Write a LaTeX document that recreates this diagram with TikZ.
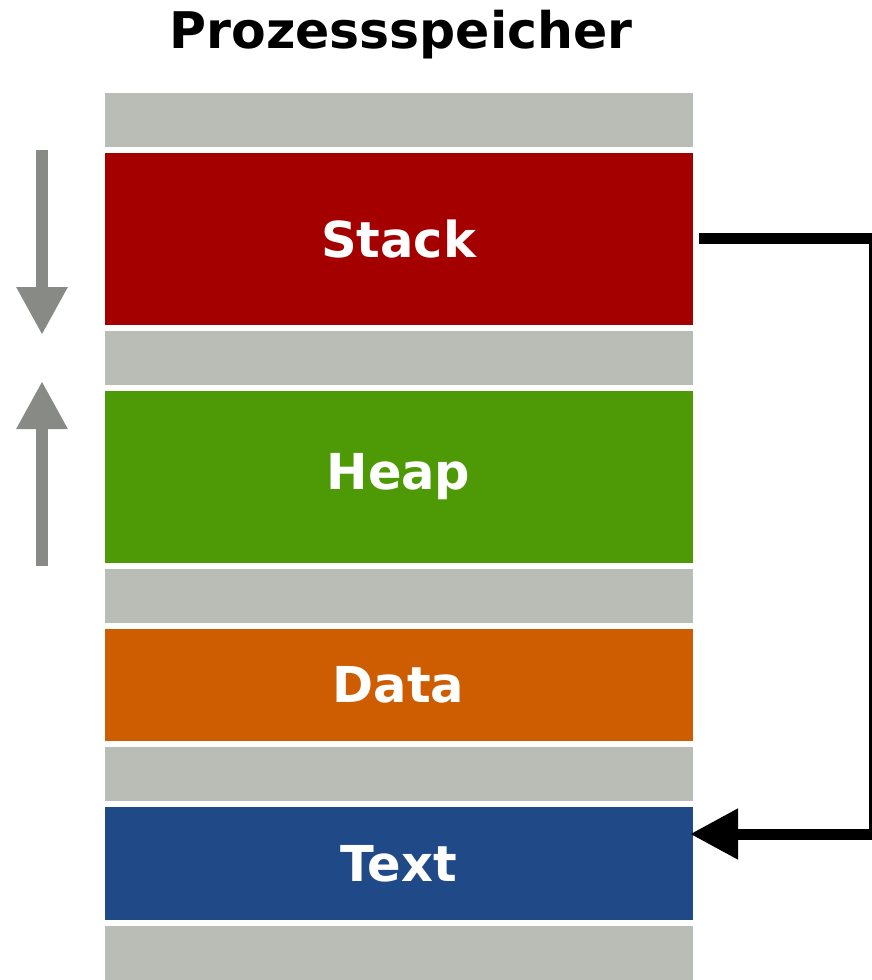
\documentclass[tikz,border=0pt]{standalone}
\usepackage{fontspec}
\setmainfont{DejaVu Sans}
\usetikzlibrary{arrows.meta}
\definecolor{segGray}{HTML}{BABDB6}
\definecolor{segRed}{HTML}{A40000}
\definecolor{segGreen}{HTML}{4E9A06}
\definecolor{segOrange}{HTML}{CE5C00}
\definecolor{segBlue}{HTML}{204A87}
\definecolor{growGray}{HTML}{888A85}
\tikzset{
  seg/.style={rectangle, inner sep=0pt, outer sep=0pt, anchor=north west,
    minimum width=588pt, text=white, font=\bfseries\fontsize{49.5}{58}\selectfont},
  gap/.style={seg, fill=segGray, minimum height=54pt},
  growarrow/.style={draw=growGray, line width=12pt, -{Triangle[length=48pt,width=48pt]}},
  linkarrow/.style={draw=black, line width=11pt, -{Triangle[length=48pt,width=48pt]}}
}
\begin{document}
\begin{tikzpicture}[x=1pt,y=1pt]
\useasboundingbox (0,0) rectangle (872,-980);
\node[font=\bfseries\fontsize{50.5}{60}\selectfont, anchor=base] (title) at (401,-48) {Prozessspeicher};
\node[gap] (g1) at (104.5,-93) {};
\node[seg, fill=segRed, minimum height=172pt] (stack) at (104.5,-153) {Stack};
\node[gap] (g2) at (104.5,-331) {};
\node[seg, fill=segGreen, minimum height=172pt] (heap) at (104.5,-391) {Heap};
\node[gap] (g3) at (104.5,-569) {};
\node[seg, fill=segOrange, minimum height=112pt] (data) at (104.5,-629) {Data};
\node[gap] (g4) at (104.5,-747) {};
\node[seg, fill=segBlue, minimum height=113pt] (text) at (104.5,-807) {Text};
\node[seg, fill=segGray, minimum height=60pt] (g5) at (104.5,-926) {};
% growth arrows
\coordinate (dA) at (42,-150);
\coordinate (dB) at (42,-335);
\coordinate (uA) at (42,-566);
\coordinate (uB) at (42,-381);
\draw[growarrow] (dA) -- (dB);
\draw[growarrow] (uA) -- (uB);
% connector
\coordinate (lnStart) at (699,-238.5);
\coordinate (lnCorner) at (874,-238.5);
\coordinate (lnEnd) at (690,-834);
\draw[linkarrow] (lnStart) -- (lnCorner) |- (lnEnd);
\end{tikzpicture}
\end{document}
